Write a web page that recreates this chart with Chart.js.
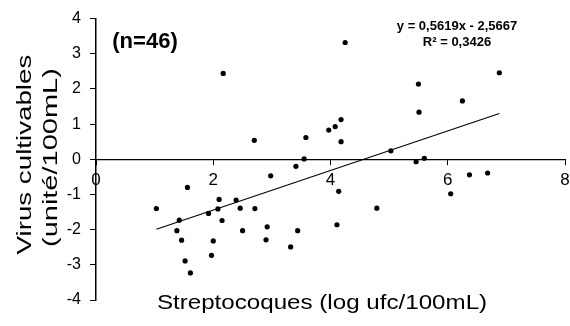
<!DOCTYPE html>
<html>
<head>
<meta charset="utf-8">
<script src="https://cdn.jsdelivr.net/npm/chart.js@4/dist/chart.umd.min.js"></script>
<style>
  html, body { margin: 0; padding: 0; background: #fff; }
  #wrap { width: 570px; height: 326px; }
</style>
</head>
<body>
<div id="wrap"><canvas id="virus-strepto"></canvas></div>
<script>
// Streptocoques (log ufc/100mL) vs virus cultivables (unité/100mL)
var streptoLog = [2.17, 2.70, 3.58, 3.97, 3.55, 3.41, 4.25, 6.88, 5.50, 6.25,
                  5.51, 4.18, 4.08, 4.18, 5.03, 5.46, 5.60, 2.98, 1.56, 1.03,
                  2.10, 2.39, 1.92, 2.08, 2.46, 2.71, 1.42, 2.15, 1.38, 2.50,
                  2.92, 3.44, 1.46, 2.00, 2.90, 3.32, 1.52, 1.97, 1.61, 4.14,
                  4.79, 4.11, 6.37, 6.68, 6.05];
var virusLog = [2.44, 0.54, 0.62, 0.83, 0.01, -0.20, 3.32, 2.46, 2.14, 1.66,
                1.34, 1.13, 0.93, 0.50, 0.24, -0.07, 0.03, -0.47, -0.80, -1.40,
                -1.14, -1.16, -1.54, -1.41, -1.39, -1.40, -1.73, -1.74, -2.03, -2.03,
                -1.92, -2.03, -2.30, -2.32, -2.29, -2.49, -2.89, -2.73, -3.23, -0.91,
                -1.39, -1.86, -0.44, -0.39, -0.98];

// regression line ends
var trendX = [1.03, 6.88];
var trendY = [-1.99, 1.30];

var xTicks = [0, 2, 4, 6, 8];
var yTicks = [-4, -3, -2, -1, 0, 1, 2, 3, 4];

var xTitle = 'Streptocoques (log ufc/100mL)';
var yTitle = ['Virus cultivables', '(unité/100mL)'];
var countLabel = '(n=46)';
var equationLabel = ['y = 0,5619x - 2,5667', 'R² = 0,3426'];

var FONT = '"Liberation Sans", Arial, Helvetica, sans-serif';

function stretchedText(ctx, text, x, y, font, sx, angle) {
  ctx.save();
  ctx.translate(x, y);
  if (angle) ctx.rotate(angle);
  ctx.scale(sx, 1);
  ctx.font = font;
  ctx.fillText(text, 0, 0);
  ctx.restore();
}

var labelsPlugin = {
  id: 'labels',
  afterDraw: function(chart) {
    var ctx = chart.ctx;
    var area = chart.chartArea;
    ctx.save();
    ctx.fillStyle = '#000';
    ctx.textAlign = 'center';
    ctx.textBaseline = 'middle';

    // axis titles
    stretchedText(ctx, xTitle, 322, area.bottom + 3, '21px ' + FONT, 1.15);
    stretchedText(ctx, yTitle[0], 25, area.top + 136, '21px ' + FONT, 1.32, -Math.PI / 2);
    stretchedText(ctx, yTitle[1], 51, area.top + 139, '21px ' + FONT, 1.38, -Math.PI / 2);

    // annotations
    ctx.font = 'bold 22px ' + FONT;
    ctx.fillText(countLabel, area.left + 49, area.top + 23);
    ctx.font = 'bold 13px ' + FONT;
    ctx.fillText(equationLabel[0], 457, area.top + 8);
    ctx.fillText(equationLabel[1], 457, area.top + 24);
    ctx.restore();
  }
};

var points = streptoLog.map(function(x, i) { return { x: x, y: virusLog[i] }; });
var trend = trendX.map(function(x, i) { return { x: x, y: trendY[i] }; });

var ctx = document.getElementById('virus-strepto').getContext('2d');
var chart = new Chart(ctx, {
  type: 'scatter',
  plugins: [labelsPlugin],
  data: {
    datasets: [
      { data: points, backgroundColor: '#000', borderWidth: 0, pointRadius: 2.6 },
      { type: 'line', data: trend, borderColor: '#000', borderWidth: 1.1,
        pointRadius: 0, fill: false, showLine: true }
    ]
  },
  options: {
    responsive: true,
    maintainAspectRatio: false,
    animation: false,
    layout: { padding: { top: 14, right: 5, bottom: 26, left: 0 } },
    plugins: {
      legend: { display: false },
      tooltip: { enabled: false }
    },
    scales: {
      x: {
        type: 'linear',
        position: { y: 0 },
        min: 0,
        max: 8,
        afterBuildTicks: function(s) { s.ticks = xTicks.map(function(v) { return { value: v }; }); },
        afterFit: function(s) { s.paddingLeft = 0; s.paddingRight = 0; },
        ticks: { color: '#000', font: { family: FONT, size: 17 }, padding: 6, maxRotation: 0 },
        grid: { drawOnChartArea: false, drawTicks: true, tickLength: 5, color: '#000', lineWidth: 1 },
        border: { color: '#000', width: 1.2 }
      },
      y: {
        type: 'linear',
        min: -4,
        max: 4,
        afterBuildTicks: function(s) { s.ticks = yTicks.map(function(v) { return { value: v }; }); },
        afterFit: function(s) { s.width = 96; },
        ticks: { color: '#000', font: { family: FONT, size: 16 }, padding: 9 },
        grid: { drawOnChartArea: false, drawTicks: true, tickLength: 6, color: '#000', lineWidth: 1 },
        border: { color: '#000', width: 1.5 }
      }
    }
  }
});
</script>
</body>
</html>
